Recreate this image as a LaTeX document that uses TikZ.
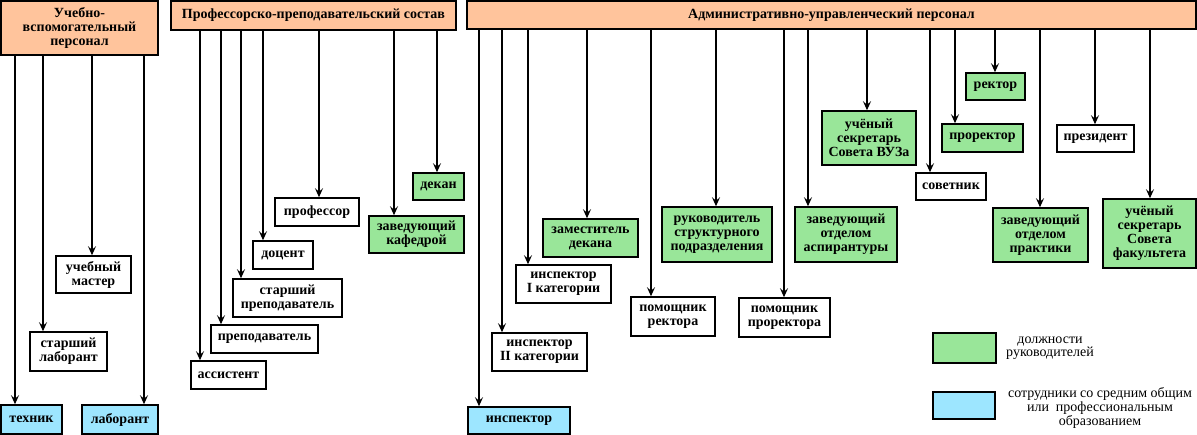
\documentclass[tikz,border=0pt]{standalone}
\usepackage{fontspec}
\setmainfont{Liberation Serif}
\usetikzlibrary{arrows.meta}
\definecolor{hdrc}{HTML}{FFC49C}
\definecolor{grc}{HTML}{99E699}
\definecolor{blc}{HTML}{9DE6FF}
\tikzset{
  bx/.style={draw=black, line width=1.5pt, align=center, inner sep=0pt,
    font=\bfseries\fontsize{14}{14}\selectfont},
  wh/.style={bx, fill=white},
  gr/.style={bx, fill=grc},
  bl/.style={bx, fill=blc},
  hd/.style={bx, fill=hdrc},
  arr/.style={line width=1.5pt, -{Stealth[length=9pt,width=8pt,inset=3.5pt]}},
  lg/.style={align=center, inner sep=0pt, font=\fontsize{14}{12.5}\selectfont}
}
% \bxn{style}{name}{x1}{y1}{x2}{y2}{text}
\newcommand{\bxn}[7]{\node[#1, minimum width={#5-#3}, minimum height={#6-#4}] (#2) at ({(#3+#5)/2},{(#4+#6)/2}) {#7};}
\begin{document}
\begin{tikzpicture}[x=1pt,y=-1pt]
\useasboundingbox (0,0) rectangle (1197,435);
% headers
\bxn{hd}{h1}{1}{1}{158}{55}{Учебно-\\вспомогательный\\персонал}
\bxn{hd}{h2}{171}{1}{456}{30}{Профессорско-преподавательский состав}
\bxn{hd}{h3}{467}{1}{1196}{29}{Административно-управленческий персонал}
% group 1
\bxn{bl}{tech}{1}{405}{62}{434}{техник}
\bxn{bl}{lab}{82}{405}{158}{434}{лаборант}
\bxn{wh}{slab}{30}{332}{107}{371}{старший\\лаборант}
\bxn{wh}{um}{56}{256}{131}{293}{учебный\\мастер}
\foreach \n/\x in {tech/15, slab/43, um/92, lab/144}
  \draw[arr] (h1.south -| \x,0) -- (\n.north -| \x,0);
% group 2
\bxn{gr}{dek}{413}{173}{464}{200}{декан}
\bxn{wh}{prof}{275}{198}{359}{226}{профессор}
\bxn{gr}{zkaf}{369}{216}{464}{253}{заведующий\\кафедрой}
\bxn{wh}{doc}{253}{241}{313}{269}{доцент}
\bxn{wh}{sprep}{233}{279}{342}{317}{старший\\преподаватель}
\bxn{wh}{prep}{211}{325}{318}{353}{преподаватель}
\bxn{wh}{ass}{191}{361}{266}{389}{ассистент}
\foreach \n/\x in {ass/200, prep/221, sprep/241, doc/263, prof/319, zkaf/394, dek/437}
  \draw[arr] (h2.south -| \x,0) -- (\n.north -| \x,0);
% group 3
\bxn{bl}{insp}{468}{407}{570}{434}{инспектор}
\bxn{wh}{insp2}{492}{333}{587}{371}{инспектор\\II категории}
\bxn{wh}{insp1}{516}{265}{611}{303}{инспектор\\I категории}
\bxn{gr}{zdek}{543}{219}{638}{257}{заместитель\\декана}
\bxn{wh}{pomr}{631}{297}{715}{336}{помощник\\ректора}
\bxn{gr}{ruk}{662}{207}{772}{262}{руководитель\\структурного\\подразделения}
\bxn{wh}{pompr}{739}{298}{830}{337}{помощник\\проректора}
\bxn{gr}{zasp}{795}{207}{897}{262}{заведующий\\отделом\\аспирантуры}
\bxn{gr}{usv}{822}{111}{916}{165}{учёный\\секретарь\\Совета ВУЗа}
\bxn{wh}{sov}{916}{173}{986}{200}{советник}
\bxn{gr}{prorek}{942}{124}{1023}{152}{проректор}
\bxn{gr}{rek}{966}{73}{1025}{100}{ректор}
\bxn{gr}{zpr}{993}{208}{1088}{262}{заведующий\\отделом\\практики}
\bxn{wh}{pres}{1057}{125}{1134}{152}{президент}
\bxn{gr}{usf}{1103}{199}{1196}{268}{учёный\\секретарь\\Совета\\факультета}
\foreach \n/\x in {insp/479, insp2/502, insp1/528, zdek/587, pomr/651, ruk/716, pompr/784, zasp/808, usv/867, sov/930, prorek/955, rek/995, zpr/1040, pres/1095, usf/1150}
  \draw[arr] (h3.south -| \x,0) -- (\n.north -| \x,0);
% legend
\bxn{gr}{lg1}{933}{333}{996}{363}{}
\bxn{bl}{lg2}{933}{392}{995}{419}{}
\node[lg] (lt1) at (1050,348) {должности\\руководителей};
\node[lg] (lt2) at (1100,408) {сотрудники со средним общим\\или\ \ профессиональным\\образованием};
\end{tikzpicture}
\end{document}
